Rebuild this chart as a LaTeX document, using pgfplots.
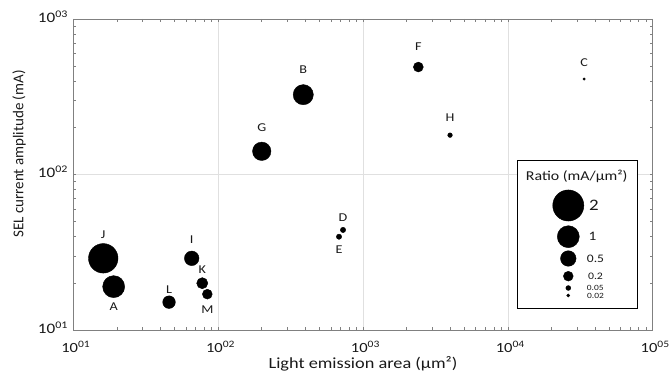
\documentclass[border=0pt]{standalone}
\usepackage{fontspec}
\setmainfont{Carlito}
\usepackage{pgfplots}
\usepackage{pgfplotstable}
\pgfplotsset{compat=1.18}

% Devices: light emission area (um^2), SEL current amplitude (mA),
% ratio (mA/um^2) and vertical offset of the letter label (pt)
\pgfplotstableread{
name x     y     ratio  dy
J    16.1  28.9  1.80   24
A    19.0  19.0  1.00  -20
I    65.7  28.9  0.44   19
K    77.7  20.0  0.257  13.3
M    84.2  17.0  0.202 -15
L    45.8  15.1  0.33   13
G    200   141   0.705  24
B    387   326   0.842  25
F    2410  491   0.204  20
H    3990  179   0.045  18
C    33600 411   0.0122 16
D    728   44.0  0.060  12.3
E    683   39.8  0.058 -12.7
}\devicedata

% Bubble-size key (positions inside the key box, pt)
\pgfplotstableread{
x  y      ratio
51 102.8  2
51 71.6   1
51 49.8   0.5
51 32.1   0.2
51 20.3   0.05
51 12.8   0.02
}\ratiokey

\newcommand{\dec}[1]{10\textsuperscript{#1}}

\pgfplotsset{
  bubble/.style={
    scatter, only marks, mark=*,
    scatter/use mapped color={draw=black, fill=black},
    visualization depends on={11*sqrt(\thisrow{ratio}) \as \rad},
    scatter/@pre marker code/.append style={/tikz/mark size=\rad},
  },
}

\begin{document}
\begin{tikzpicture}
\begin{axis}[
  at={(0pt,0pt)}, anchor=south west,
  scale only axis, width=579.4pt, height=311pt,
  xmode=log, ymode=log,
  xmin=10, xmax=100000, ymin=10, ymax=1000,
  xtick={10,100,1000,10000,100000},
  xticklabels={\dec{01},\dec{02},\dec{03},\dec{04},\dec{05}},
  ytick={10,100,1000},
  yticklabels={\dec{01},\dec{02},\dec{03}},
  minor xtick={20,30,40,50,60,70,80,90,200,300,400,500,600,700,800,900,2000,3000,4000,5000,6000,7000,8000,9000,20000,30000,40000,50000,60000,70000,80000,90000},
  minor ytick={20,30,40,50,60,70,80,90,200,300,400,500,600,700,800,900},
  tick align=inside, tick pos=both,
  major tick length=3pt, minor tick length=3pt,
  every tick/.style={black!50, line width=0.6pt},
  axis line style={black!50, line width=0.8pt},
  xmajorgrids, ymajorgrids,
  major grid style={black!12, line width=0.6pt},
  xticklabel style={font=\fontsize{14}{16}\selectfont, text=black!90,
    anchor=base, inner sep=0pt, yshift=-23pt, xshift=2.5pt, xscale=1.18},
  yticklabel style={font=\fontsize{14.5}{16}\selectfont, text=black!90,
    anchor=base east, inner sep=0pt, xshift=-5pt, yshift=-3.4pt, xscale=1.18},
  xlabel={Light emission area (µm²)},
  ylabel={SEL current amplitude (mA)},
  xlabel style={at={(axis description cs:0.5,0)}, anchor=base, inner sep=0pt,
    yshift=-39pt, font=\fontsize{15.5}{18}\selectfont, text=black!90, xscale=1.18},
  ylabel style={at={(axis description cs:-0.086,0.566)}, anchor=base, inner sep=0pt,
    font=\fontsize{15}{18}\selectfont, text=black!90},
  clip=false,
]
\addplot[bubble] table[x=x, y=y] {\devicedata};
\addplot[only marks, mark=none, point meta=explicit symbolic, nodes near coords,
  visualization depends on={\thisrow{dy} \as \dy},
  every node near coord/.append style={anchor=center, yshift=\dy,
    font=\fontsize{12}{14}\selectfont, text=black!90, xscale=1.18}]
  table[x=x, y=y, meta=name] {\devicedata};
\end{axis}

% Key for the bubble sizes
\begin{axis}[
  at={(444pt,21.7pt)}, anchor=south west,
  scale only axis, width=120.4pt, height=148.3pt,
  xmin=0, xmax=120.4, ymin=0, ymax=148.3,
  xtick=\empty, ytick=\empty,
  axis line style={black, line width=0.8pt},
  axis background/.style={fill=white},
  clip=false,
]
\addplot[bubble] table[x=x, y=y] {\ratiokey};
\node[font=\fontsize{13.5}{16}\selectfont, text=black!90, xscale=1.18] at (axis cs:59.4,131.6) {Ratio (mA/µm²)};
\node[anchor=west, inner sep=0pt, font=\fontsize{16}{18}\selectfont, text=black!90, xscale=1.18] at (axis cs:71.5,102.8) {2};
\node[anchor=west, inner sep=0pt, font=\fontsize{13}{15}\selectfont, text=black!90, xscale=1.18] at (axis cs:71,71.6) {1};
\node[anchor=west, inner sep=0pt, font=\fontsize{11.5}{13}\selectfont, text=black!90, xscale=1.18] at (axis cs:69.4,49.8) {0.5};
\node[anchor=west, inner sep=0pt, font=\fontsize{10}{12}\selectfont, text=black!90, xscale=1.18] at (axis cs:70.5,32.1) {0.2};
\node[anchor=west, inner sep=0pt, font=\fontsize{8}{10}\selectfont, text=black!90, xscale=1.18] at (axis cs:69.4,20.3) {0.05};
\node[anchor=west, inner sep=0pt, font=\fontsize{8}{10}\selectfont, text=black!90, xscale=1.18] at (axis cs:69.6,12.8) {0.02};
\end{axis}

\pgfresetboundingbox
\path (-73.3pt,-44pt) rectangle (596.7pt,330pt);
\end{tikzpicture}
\end{document}
